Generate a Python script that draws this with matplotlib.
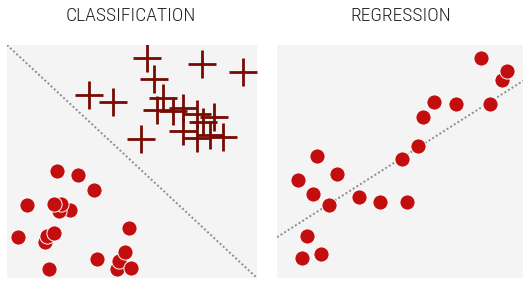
import matplotlib
matplotlib.use("Agg")
import matplotlib.pyplot as plt
from matplotlib import font_manager

# Classification: two classes (crosses up top, dots bottom-left)
cross_x = [5.59, 7.81, 9.45, 5.89, 3.28, 4.25, 6.25, 5.99, 6.65,
           7.05, 7.59, 8.29, 7.83, 5.35, 7.05, 7.60, 8.12, 8.65]
cross_y = [9.43, 9.18, 8.85, 8.53, 7.85, 7.54, 7.73, 7.21, 7.17,
           7.28, 7.04, 6.90, 6.71, 5.97, 6.31, 6.01, 6.14, 6.04]
dot_x = [2.01, 2.84, 3.48, 0.79, 2.53, 2.07, 2.17, 1.88, 0.45, 1.51,
         1.59, 1.89, 4.89, 1.69, 3.60, 4.39, 4.48, 4.73, 4.95]
dot_y = [4.58, 4.43, 3.78, 3.12, 2.93, 2.88, 3.18, 3.19, 1.75, 1.56,
         1.80, 1.94, 2.16, 0.37, 0.80, 0.37, 0.73, 1.13, 0.43]
boundary_x = [0, 10]
boundary_y = [10, 0]

# Regression
reg_x = [8.28, 9.16, 9.34, 6.38, 7.29, 8.65, 5.93, 5.73, 5.08, 1.63,
         0.87, 2.44, 1.46, 2.13, 3.32, 4.19, 5.27, 1.22, 1.79, 1.00]
reg_y = [9.44, 8.49, 8.89, 7.57, 7.47, 7.47, 6.91, 5.68, 5.12, 5.23,
         4.22, 4.47, 3.59, 3.12, 3.46, 3.28, 3.28, 1.81, 1.02, 0.85]
fit_x = [0, 10]
fit_y = [1.75, 8.46]

titles = ["CLASSIFICATION", "REGRESSION"]

# narrow font for the titles, if there is one
installed = {f.name for f in font_manager.fontManager.ttflist}
title_font = "DejaVu Sans"
for name in ["Roboto Condensed", "Liberation Sans Narrow", "Open Sans Condensed", "Roboto"]:
    if name in installed:
        title_font = name
        break
title_size = 14 if ("Narrow" in title_font or "Condensed" in title_font) else 12.5

dot_color = "#c20e0e"
cross_color = "#760b02"
panel_bg = "#f4f4f4"

W, H = 523, 281
fig = plt.figure(figsize=(W / 100, H / 100), dpi=100)

ax1 = fig.add_axes([7 / W, 3 / H, 250 / W, 233 / H])
ax2 = fig.add_axes([277 / W, 3 / H, 246 / W, 233 / H])

for ax in (ax1, ax2):
    ax.set_facecolor(panel_bg)
    ax.set_xlim(0, 10)
    ax.set_ylim(0, 10)
    ax.set_xticks([])
    ax.set_yticks([])
    for s in ax.spines.values():
        s.set_visible(False)

ax1.plot(boundary_x, boundary_y, color="#8c8c8c", lw=1.4,
         linestyle=(0, (1, 1.2)), zorder=1)
ax1.plot(cross_x, cross_y, linestyle="none", marker="+", markersize=20,
         markeredgewidth=2.0, color=cross_color, zorder=3)
ax1.scatter(dot_x, dot_y, s=120, color=dot_color, edgecolors="white",
            linewidths=0.7, zorder=3)

ax2.plot(fit_x, fit_y, color="#8c8c8c", lw=1.4,
         linestyle=(0, (1, 1.2)), zorder=1)
ax2.scatter(reg_x, reg_y, s=120, color=dot_color, edgecolors="white",
            linewidths=0.7, zorder=3)

fig.text(131 / W, 1 - 16 / H, titles[0], ha="center", va="center",
         fontsize=title_size, family=title_font, weight="light", color="#222222")
fig.text(401 / W, 1 - 16 / H, titles[1], ha="center", va="center",
         fontsize=title_size, family=title_font, weight="light", color="#222222")

fig.savefig("out.png", dpi=100, facecolor="white")
